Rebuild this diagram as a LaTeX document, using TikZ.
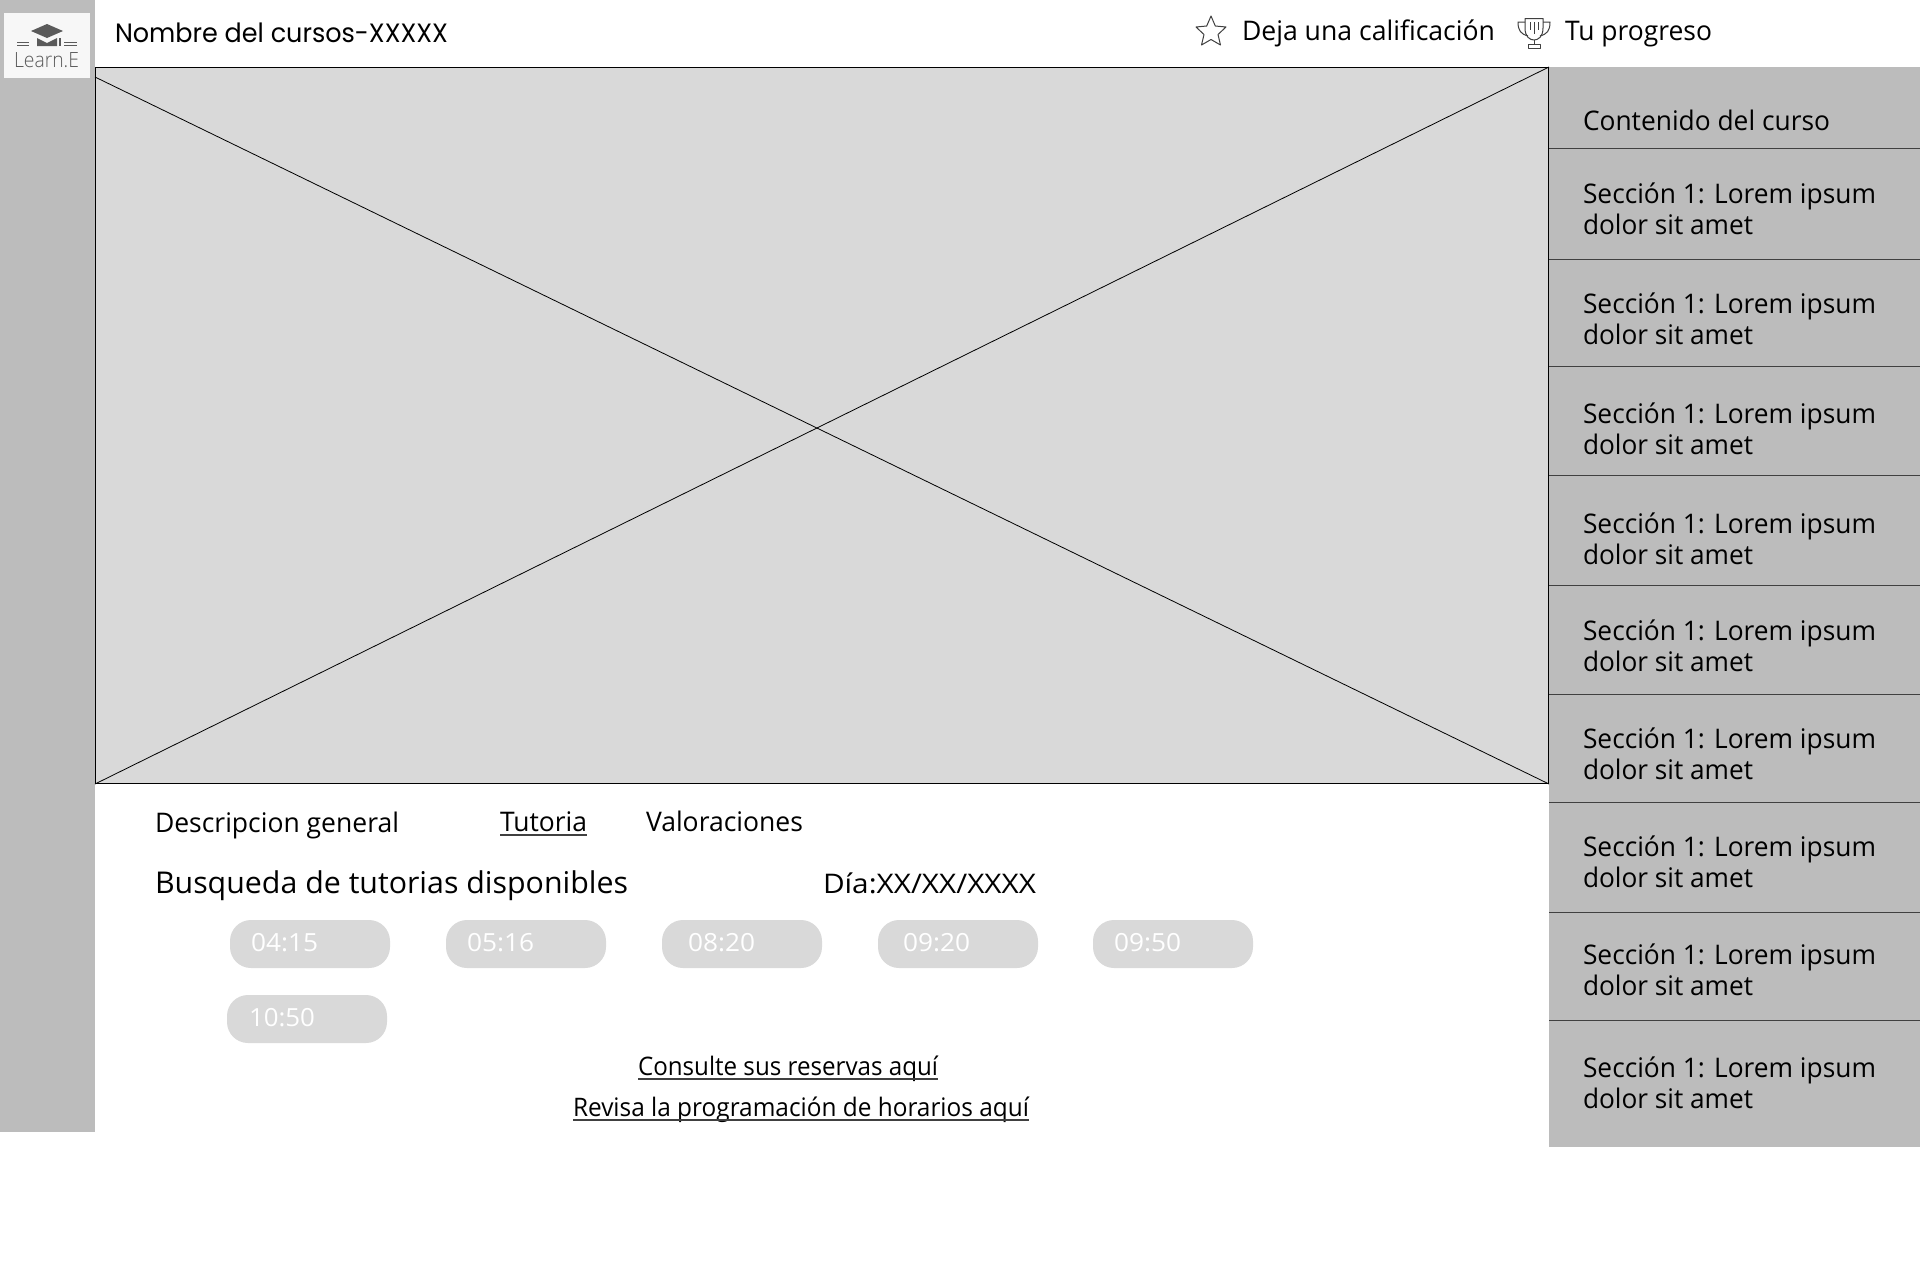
\documentclass[tikz,border=0pt]{standalone}
\usepackage{fontspec}
\usepackage{graphicx}
\setmainfont{Open Sans}
\newfontfamily\headfont{Poppins}
\newfontfamily\logofont{Open Sans Light}
\definecolor{panel}{HTML}{BCBCBC}
\definecolor{video}{HTML}{D9D9D9}
\definecolor{logobg}{HTML}{F7F7F7}
\definecolor{logoink}{HTML}{5A5A5A}
\newcommand{\fw}[2]{\resizebox{#1pt}{\height}{#2}}
\tikzset{
  lbl/.style={anchor=base west,inner sep=0pt,outer sep=0pt,text=black,font=\fontsize{27}{30}\selectfont},
  linklbl/.style={lbl,font=\fontsize{25.5}{30}\selectfont},
  timelbl/.style={lbl,text=white,font=\fontsize{25}{30}\selectfont},
  slot/.style={fill=video,rounded corners=21pt,draw=none},
  sepline/.style={draw=black!75,line width=0.9pt},
  uline/.style={draw=black!75,line width=1.5pt},
  icon/.style={draw=black!75,line width=1pt,line join=round}
}
\begin{document}
\begin{tikzpicture}[x=1pt,y=-1pt]
\useasboundingbox (0,0) rectangle (1920,1288);
\fill[white] (0,0) rectangle (1920,1288);
\fill[panel] (0,0) rectangle (95,1132);
\fill[panel] (1549,67) rectangle (1920,1147);
\fill[logobg] (4,13) rectangle (90,78);
% logo
\fill[logoink] (31,31) -- (47,24) -- (63,31) -- (47,38) -- cycle;
\fill[logoink] (37,38) -- (47,43) -- (57,38) -- (57,46) -- (37,46) -- cycle;
\fill[logoink] (59,38) rectangle (60.5,46);
\foreach \yy in {42,45}{\fill[logoink] (17,\yy) rectangle (29,\yy+1);\fill[logoink] (64,\yy) rectangle (77,\yy+1);}
\node[lbl,text=logoink] (logotext) at (14,67) {\logofont\fw{65}{\fontsize{21}{24}\selectfont Learn.E}};
% video
\node[draw=black,line width=1pt,fill=video,inner sep=0pt,minimum width=1453pt,minimum height=716pt,anchor=north west] (vid) at (95,67) {};
\coordinate (diagstart) at (95,77);
\draw[line width=0.8pt] (diagstart) -- (vid.south east);
\draw[line width=0.8pt] (vid.north east) -- (vid.south west);
% header
\node[lbl] (title) at (115,42) {\headfont\fw{333}{\fontsize{26.5}{30}\selectfont Nombre del cursos-XXXXX}};
\node[lbl] (rate) at (1242,40) {\fw{253}{Deja una calificación}};
\node[lbl] (prog) at (1565,40) {\fw{147}{Tu progreso}};
% star
\draw[icon] (1211,16) -- (1215.3,26) -- (1226,27) -- (1218,34.5) -- (1220.5,45) -- (1211,39.5) -- (1201.5,45) -- (1204,34.5) -- (1196,27) -- (1206.7,26) -- cycle;
% trophy
\draw[icon] (1525,18.5) -- (1543,18.5) -- (1543,28) .. controls (1543,37) and (1538,40) .. (1534,40) .. controls (1530,40) and (1525,37) .. (1525,28) -- cycle;
\draw[icon] (1525,22) -- (1518,22) .. controls (1518,31) and (1521,34) .. (1528,36);
\draw[icon] (1543,22) -- (1550,22) .. controls (1550,31) and (1547,34) .. (1540,36);
\draw[icon] (1534,40) -- (1534,44);
\draw[icon] (1530,44) -- (1538,44);
\draw[icon] (1528,44) rectangle (1540,48);
\draw[icon] (1530,22) -- (1530,30);
\draw[icon] (1534,22) -- (1534,34);
\draw[icon] (1538,22) -- (1538,30);
% sidebar
\node[lbl] (contenido) at (1583,130) {\fw{247}{Contenido del curso}};
\foreach \sy [count=\i] in {148,259,366,475,585,694,802,912,1020}{\draw[sepline] (1549,\sy) -- (1920,\sy);}
\foreach \by [count=\i] in {203,313,423,533,640,748,856,964,1077}{
  \node[lbl] (sa\i) at (1583,\by) {\fw{293}{Sección 1: Lorem ipsum}};
  \node[lbl] (sb\i) at (1583,\by+31) {\fw{170}{dolor sit amet}};
}
% tabs
\node[lbl] (desc) at (155,832) {\fw{244}{Descripcion general}};
\node[lbl] (tuto) at (500,831) {\fw{87}{Tutoria}};
\node[lbl] (valo) at (646,831) {\fw{157}{Valoraciones}};
\draw[uline] ([yshift=-4pt]tuto.base west) -- ([yshift=-4pt]tuto.base east);
\node[lbl,font=\fontsize{30}{34}\selectfont] (busq) at (155,893) {\fw{473}{Busqueda de tutorias disponibles}};
\node[lbl] (dia) at (823,893) {\fw{213}{Día:XX/XX/XXXX}};
% slots
\foreach \xa/\tx/\lab/\nm in {230/251/04:15/a,446/467/05:16/b,662/688/08:20/c,878/903/09:20/d,1093/1114/09:50/e}{
  \fill[slot] (\xa,920) rectangle (\xa+160,968);
  \node[timelbl] (t\nm) at (\tx,951) {\fw{67}{\lab}};
}
\fill[slot] (227,995) rectangle (387,1043);
\node[timelbl] (tf) at (249,1026) {\fw{66}{10:50}};
% links
\node[linklbl] (cons) at (638,1075) {\fw{300}{Consulte sus reservas aquí}};
\draw[uline] ([yshift=-4pt]cons.base west) -- ([yshift=-4pt]cons.base east);
\node[linklbl] (rev) at (573,1116) {\fw{456}{Revisa la programación de horarios aquí}};
\draw[uline] ([yshift=-4pt]rev.base west) -- ([yshift=-4pt]rev.base east);
\end{tikzpicture}
\end{document}
